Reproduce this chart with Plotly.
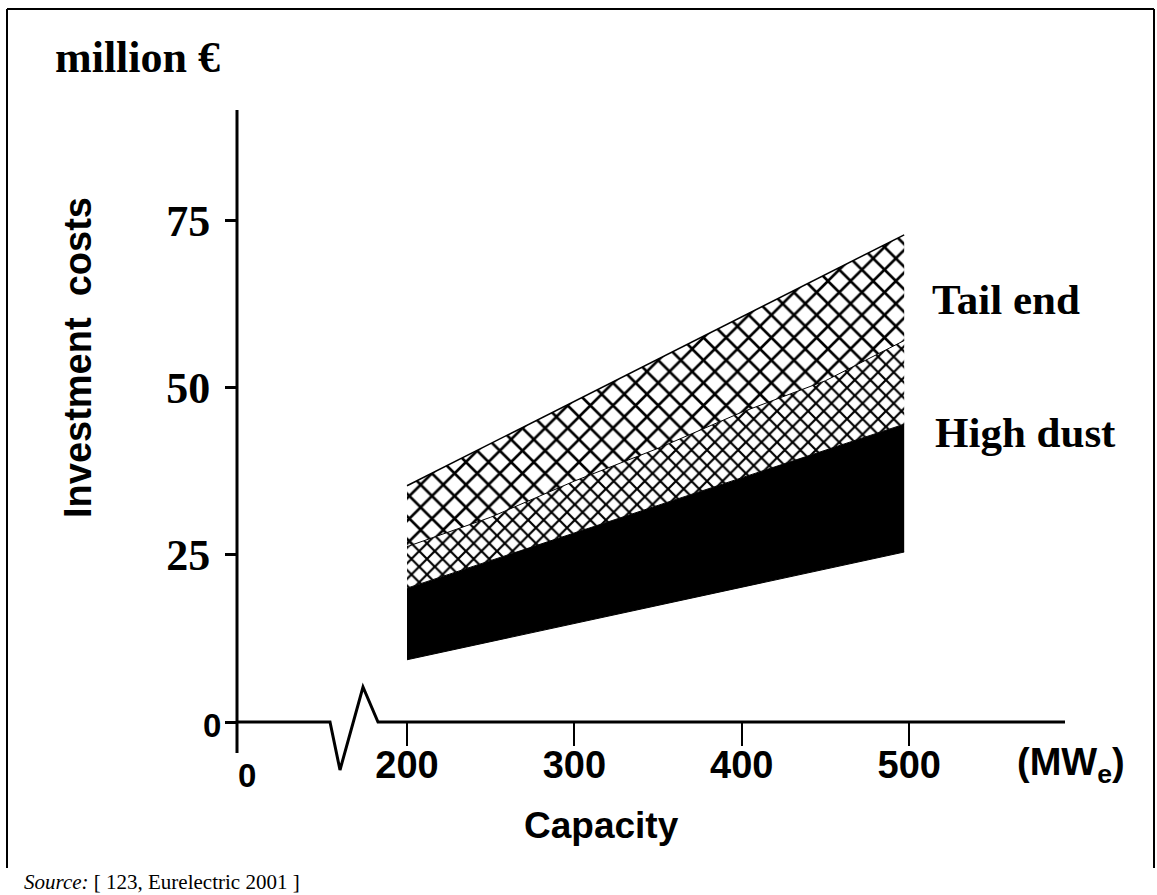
import plotly.graph_objects as go

# ---------------- data ----------------
capacity_edges = [200, 497]                 # MWe, left/right edge of the bands
high_dust_low = [9.3, 25.4]                 # million EUR
high_dust_high = [20.0, 44.5]
tail_end_high = [35.3, 72.8]
mid_capacity = [200, 250, 300, 350, 400, 450, 497]
tail_end_mid = [26.2, 30.6, 36.0, 40.9, 46.3, 51.0, 57.0]

x_tick_vals = [200, 300, 400, 500]
x_tick_text = ["200", "300", "400", "500"]
y_tick_vals = [25, 50, 75]
y_tick_text = ["25", "50", "75"]

# ---------------- geometry helpers ----------------
W, H = 1157, 895
L, R, T, B = 217, 72, 100, 110
PW, PH = W - L - R, H - T - B
XPX = 1.674      # px per MWe
YPX = 6.692      # px per million EUR
X_ANCHOR = (200, 407)
Y_ANCHOR = (0, 722)


def dx(px):
    return X_ANCHOR[0] + (px - X_ANCHOR[1]) / XPX


def dy(py):
    return Y_ANCHOR[0] + (Y_ANCHOR[1] - py) / YPX


def paper_x(px):
    return (px - L) / PW


def paper_y(py):
    return (H - B - py) / PH


x_range = [dx(L), dx(W - R)]
y_range = [dy(H - B), dy(T)]

SERIF = "Liberation Serif"
SANS = "Liberation Sans"

fig = go.Figure()

# High dust band (black)
fig.add_trace(go.Scatter(x=capacity_edges, y=high_dust_low, mode="lines",
                         line=dict(color="black", width=1), hoverinfo="skip"))
fig.add_trace(go.Scatter(x=capacity_edges, y=high_dust_high, mode="lines",
                         line=dict(color="black", width=1), fill="tonexty",
                         fillcolor="black", hoverinfo="skip"))
# Tail end lower part (dense hatching)
fig.add_trace(go.Scatter(x=mid_capacity, y=tail_end_mid, mode="lines",
                         line=dict(color="black", width=1), fill="tonexty",
                         fillcolor="black",
                         fillpattern=dict(shape="x", size=11, solidity=0.36,
                                          fgcolor="black", bgcolor="white",
                                          fillmode="replace"),
                         hoverinfo="skip"))
# Tail end upper part (cross hatching)
fig.add_trace(go.Scatter(x=capacity_edges, y=tail_end_high, mode="lines",
                         line=dict(color="black", width=1.5), fill="tonexty",
                         fillcolor="black",
                         fillpattern=dict(shape="x", size=16, solidity=0.3,
                                          fgcolor="black", bgcolor="white",
                                          fillmode="replace"),
                         hoverinfo="skip"))

# axis lines (y axis + broken x axis) drawn in data space
y_axis_x = dx(237)
axis_path_px = [(237, 722), (330, 722), (340, 770), (363, 687), (378, 722), (1065, 722)]
path = "M " + " L ".join(f"{dx(px)} {dy(py)}" for px, py in axis_path_px)
shapes = [
    dict(type="line", xref="x", yref="y", x0=y_axis_x, x1=y_axis_x,
         y0=dy(753), y1=dy(110), line=dict(color="black", width=3)),
    dict(type="path", xref="x", yref="y", path=path,
         line=dict(color="black", width=3)),
    # frame
    dict(type="line", xref="paper", yref="paper", x0=paper_x(7), x1=paper_x(7),
         y0=paper_y(868), y1=paper_y(9), line=dict(color="black", width=2)),
    dict(type="line", xref="paper", yref="paper", x0=paper_x(7), x1=paper_x(1154),
         y0=paper_y(9), y1=paper_y(9), line=dict(color="black", width=2)),
    dict(type="line", xref="paper", yref="paper", x0=paper_x(1154), x1=paper_x(1154),
         y0=paper_y(868), y1=paper_y(9), line=dict(color="black", width=2)),
]


def ann(text, px, py, size, family, xanchor="left", angle=0, bold=True):
    return dict(text=text, x=paper_x(px), y=paper_y(py), xref="paper", yref="paper",
                xanchor=xanchor, yanchor="middle", showarrow=False, textangle=angle,
                font=dict(family=family, size=size, color="black",
                          weight="bold" if bold else "normal"))


annotations = [
    ann("million €", 53, 57, 44, SERIF),
    ann("Tail end", 930, 299, 43, SERIF),
    ann("High dust", 933, 432, 43, SERIF),
    ann("(MW<sub>e</sub>)", 1015, 765, 38, SANS),
    ann("Capacity", 601, 825, 37, SANS, xanchor="center"),
    ann("0", 247, 775, 33, SANS, xanchor="center"),
    ann("0", 223, 725, 33, SANS, xanchor="right"),
    ann("Investment  costs", 78, 358, 38, SANS, xanchor="center", angle=-90),
    ann("<i>Source:</i> [ 123, Eurelectric 2001 ]", 22, 882, 21, SERIF, bold=False),
]

fig.update_layout(
    width=W, height=H,
    margin=dict(l=L, r=R, t=T, b=B, pad=0),
    paper_bgcolor="white", plot_bgcolor="white",
    showlegend=False,
    xaxis=dict(range=x_range, domain=[0, 1], anchor="free", position=paper_y(722),
               showline=False, showgrid=False, zeroline=False,
               ticks="outside", ticklen=23, tickwidth=2, tickcolor="black",
               tickvals=x_tick_vals, ticktext=x_tick_text, ticklabelstandoff=-14,
               tickfont=dict(family=SANS, size=38, color="black", weight="bold")),
    yaxis=dict(range=y_range, domain=[0, 1], anchor="free", position=paper_x(237),
               showline=False, showgrid=False, zeroline=False,
               ticks="outside", ticklen=12, tickwidth=3, tickcolor="black",
               tickvals=y_tick_vals, ticktext=y_tick_text, ticklabelstandoff=6,
               tickfont=dict(family=SERIF, size=44, color="black", weight="bold"),
               minor=dict(tickvals=[0], ticks="outside", ticklen=12, tickwidth=3,
                          tickcolor="black", showgrid=False)),
    shapes=shapes,
    annotations=annotations,
)

fig.write_html("out.html", config={"displayModeBar": False},
               post_script="document.body.style.margin='0';")
